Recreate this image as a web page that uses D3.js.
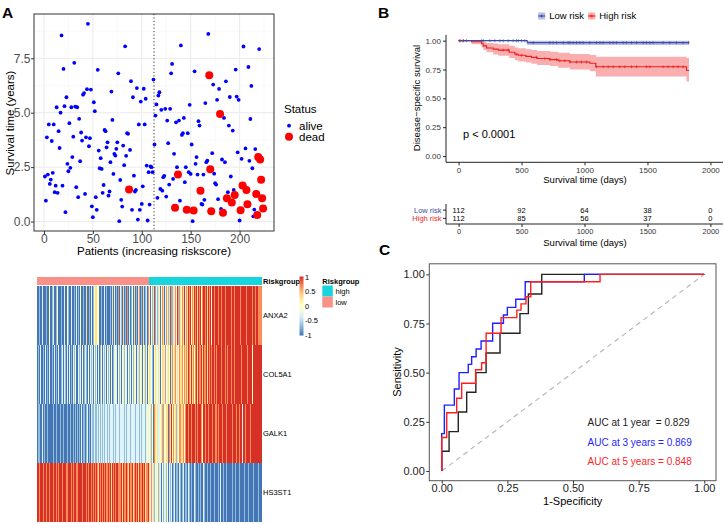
<!DOCTYPE html>
<html><head><meta charset="utf-8">
<script src="https://cdn.jsdelivr.net/npm/d3@7"></script>
<style>
body{margin:0;background:#fff}
svg{display:block}
text{font-family:"Liberation Sans",Arial,Helvetica,sans-serif}
</style>
</head><body>
<svg id="c" width="725" height="524"></svg>
<script>
// ================= DATA =================
// Panel A: survival time (years) per patient ordered by increasing riskscore
const survYears = [
2.07,0.96,3.87,2.16,4.46,1.73,1.93,3.70,2.24,4.46,
1.35,1.65,5.25,1.32,4.15,3.38,5.00,8.55,1.65,7.01,
5.30,0.43,5.71,2.65,2.31,4.52,2.47,5.25,2.96,3.90,
7.29,5.28,1.58,5.25,1.12,4.72,2.77,4.09,3.72,5.83,
5.90,1.27,3.87,6.08,9.08,3.46,3.83,6.06,0.70,0.20,
5.48,5.07,1.12,0.54,6.97,3.26,2.45,2.91,2.42,1.32,
1.68,4.21,4.15,3.41,3.64,1.19,1.38,2.73,5.97,4.67,
2.19,3.11,3.03,3.34,3.64,6.81,0.02,1.91,1.00,0.69,
3.49,2.59,8.05,3.02,4.06,4.03,1.47,3.29,6.45,0.54,
5.71,2.11,1.38,1.45,6.13,0.09,4.46,0.54,5.51,0.81,
1.62,6.10,4.46,5.64,2.57,0.05,2.27,0.78,2.53,2.50,
2.27,6.52,3.54,4.87,5.38,1.09,5.79,5.94,1.50,5.13,
1.42,2.04,2.10,5.18,1.15,4.64,3.60,1.70,5.18,6.81,
7.24,1.96,3.11,0.64,4.56,2.50,2.16,4.64,0.96,8.09,
3.98,4.06,4.76,1.81,2.50,0.54,4.06,2.27,5.36,2.19,
3.54,0.02,0.51,6.90,2.65,2.96,2.16,4.61,4.41,1.42,
0.81,0.78,2.16,1.00,5.44,2.73,2.80,8.62,6.72,2.40,
0.47,3.14,6.29,2.20,1.76,1.70,5.59,1.03,6.09,4.94,
0.58,2.85,0.41,4.76,2.73,6.44,1.07,1.35,4.41,5.72,
2.07,0.88,4.18,1.45,1.22,6.98,5.74,3.18,5.59,0.05,
0.52,2.88,1.66,8.04,1.66,3.36,1.45,0.79,7.10,2.79,
4.71,6.23,2.45,0.24,0.55,3.33,1.27,0.30,2.96,7.92,
2.85,1.92,1.07,0.60];
const deadPatients = [87,134,137,146,153,160,169,170,171,180,183,187,192,195,201,203,207,208,217,218,219,221,222,223,224];
const riskCutoff = 112.5;
const statusLabels = ["alive","dead"];
const xTicksA = [0,50,100,150,200];
const yTicksA = [0,2.5,5,7.5];

// Heatmap: expression levels per patient (0..6 => -1..1)
const genes = ["ANXA2","COL5A1","GALK1","HS3ST1"];
const exprANXA2 =
"00100200"+"01003001"+"20013000"+"10020031"+"00200102"+"01030010"+"04001020"+"13443300"+
"10020100"+"01040201"+"05021040"+"10502013"+"04010250"+"10401205"+"20314052"+"14203540"+
"25314051"+"42536154"+"35462546"+"56354656"+"46563566"+"56465636"+"65666566"+"56665666"+
"66566566"+"66656666"+"65666665"+"66566555";
const exprCOL5A1 =
"01020010"+"20102001"+"02010200"+"12021020"+"20102130"+"02120301"+"21030212"+"03120201"+
"30212031"+"20301232"+"03120321"+"32031203"+"12302413"+"20341203"+"42310342"+"34203442"+
"53243045"+"34524354"+"45354546"+"54645356"+"46556465"+"56465656"+"65656666"+"56665656"+
"66566566"+"66665666"+"66566663"+"66666666";
const exprGALK1 =
"01100201"+"00100000"+"10010001"+"00100010"+"01001010"+"10102011"+"01201021"+"12112121"+
"21212212"+"12221212"+"22122221"+"21222122"+"22122212"+"12221232"+"34130543"+"42234153"+
"34405463"+"53414355"+"44535665"+"66566656"+"56665366"+"56656665"+"66556566"+"65666566"+
"66656665"+"66566266"+"56666566"+"66666666";
const exprHS3ST1 =
"66566656"+"65665666"+"56656566"+"65666556"+"66565665"+"56666566"+"65656656"+"56565465"+
"65656556"+"56465656"+"65556465"+"56546556"+"45656465"+"56564556"+"42524132"+"31420312"+
"21302120"+"12011021"+"01201102"+"10100210"+"01010021"+"00100100"+"01000102"+"00100100"+
"00010010"+"00100001"+"00010000"+"10000100";
const riskGroups = ["high","low"];
const legendTicks = [1,0.5,0,-0.5,-1];

// Panel B: Kaplan-Meier steps [day, survival]
const kmLowSteps = [[0,1],[545,0.983]];
const kmLowLower = [1,0.962];
const kmLowUpper = [1,1];
const kmLowEnd = 1830;
const kmHighSteps = [[0,1],[103,0.991],[183,0.973],[196,0.955],[222,0.937],[275,0.927],[315,0.918],
  [402,0.900],[447,0.882],[474,0.873],[534,0.864],[579,0.855],[624,0.845],[725,0.836],[791,0.826],
  [884,0.815],[1042,0.804],[1090,0.774],[1810,0.741]];
const kmHighLower = [1,0.97,0.94,0.92,0.90,0.88,0.87,0.85,0.83,0.82,0.81,0.80,0.79,0.78,0.765,0.75,0.735,0.69,0.645];
const kmHighUpper = [1,1,1,0.99,0.98,0.975,0.97,0.955,0.94,0.935,0.925,0.92,0.91,0.905,0.895,0.885,0.875,0.86,0.85];
const kmHighEnd = 1830;
const censorLow = [10,37,63,183,196,249,288,328,354,394,434,460,474,500,526,593,725,751,778,831,870,884,910,937,963,989,1042,1095,1122,1148,1201,1228,1254,1307,1333,1373,1413,1466,1492,1519,1545,1624,1677,1730,1783,1826];
const censorHigh = [10,37,354,394,460,500,619,685,725,778,804,844,884,937,976,1016,1095,1148,1188,1228,1280,1320,1373,1413,1492,1519,1624,1664,1704,1743,1783];
const kmGroups = ["Low risk","High risk"];
const kmXTicks = [0,500,1000,1500,2000];
const kmYTicks = [0,0.25,0.5,0.75,1];
const riskTimes = [0,500,1000,1500,2000];
const atRiskLow = [112,92,64,38,0];
const atRiskHigh = [112,85,56,37,0];
const pValueLabel = "p < 0.0001";

// Panel C: time-dependent ROC curves [FPR, TPR]
const roc1y = [[0,0],[0,0.10],[0.028,0.10],[0.028,0.20],[0.063,0.20],[0.063,0.30],[0.095,0.30],[0.095,0.40],
  [0.13,0.40],[0.13,0.50],[0.169,0.50],[0.169,0.60],[0.222,0.60],[0.222,0.70],[0.298,0.70],[0.298,0.80],
  [0.33,0.80],[0.33,0.90],[0.381,0.90],[0.381,1],[1,1]];
const roc3y = [[0,0],[0,0.19],[0.01,0.19],[0.01,0.335],[0.048,0.335],[0.048,0.417],[0.066,0.417],[0.066,0.50],
  [0.101,0.50],[0.101,0.542],[0.114,0.542],[0.114,0.581],[0.131,0.581],[0.131,0.62],[0.15,0.62],[0.15,0.661],
  [0.194,0.661],[0.194,0.751],[0.235,0.751],[0.235,0.793],[0.25,0.793],[0.25,0.832],[0.282,0.832],[0.282,0.873],
  [0.318,0.873],[0.318,0.962],[0.543,0.962],[0.543,1],[1,1]];
const roc5y = [[0,0],[0,0.17],[0.019,0.17],[0.019,0.296],[0.057,0.296],[0.057,0.37],[0.076,0.37],[0.076,0.446],
  [0.129,0.446],[0.129,0.515],[0.152,0.515],[0.152,0.55],[0.169,0.55],[0.169,0.70],[0.226,0.70],[0.226,0.78],
  [0.286,0.78],[0.286,0.818],[0.302,0.818],[0.302,0.85],[0.321,0.85],[0.321,0.886],[0.339,0.886],[0.339,0.962],
  [0.603,0.962],[0.603,1],[1,1]];
const aucLabels = ["AUC at 1 year  = 0.829","AUC at 3 years = 0.869","AUC at 5 years = 0.848"];
const rocTicks = [0,0.25,0.5,0.75,1];

// ================= DRAW =================
const svg = d3.select("#c");
const f2 = d3.format(".2f"), f1 = d3.format(".1f"), fd = d3.format("d");

function styleAxis(g, fs, col, tickCol){
  g.selectAll("text").attr("font-size", fs).attr("fill", col)
   .attr("font-family", "'Liberation Sans',Arial,sans-serif");
  g.selectAll("line").attr("stroke", tickCol);
  g.select(".domain").attr("stroke", tickCol);
}

// ---------- Panel A: scatter ----------
{
  const n = survYears.length;
  const xA = d3.scaleLinear().domain([1-0.05*(n-1), n+0.05*(n-1)]).range([34,274]);
  const ext = d3.extent(survYears), pad = 0.05*(ext[1]-ext[0]);
  const yA = d3.scaleLinear().domain([ext[0]-pad, ext[1]+pad]).range([231,14]);
  const g = svg.append("g");
  g.append("rect").attr("x",34).attr("y",14).attr("width",240).attr("height",217).attr("fill","#fff");
  const minorX = xTicksA.map(d=>d+25), minorY = yTicksA.map(d=>d+1.25);
  g.selectAll(".mx").data(minorX.filter(d=>xA(d)<274)).join("line").attr("x1",d=>xA(d)).attr("x2",d=>xA(d))
    .attr("y1",14).attr("y2",231).attr("stroke","#f3f3f3").attr("stroke-width",0.6);
  g.selectAll(".my").data(minorY.filter(d=>yA(d)>14)).join("line").attr("y1",d=>yA(d)).attr("y2",d=>yA(d))
    .attr("x1",34).attr("x2",274).attr("stroke","#f3f3f3").attr("stroke-width",0.6);
  g.selectAll(".gx").data(xTicksA).join("line").attr("x1",d=>xA(d)).attr("x2",d=>xA(d))
    .attr("y1",14).attr("y2",231).attr("stroke","#ebebeb").attr("stroke-width",1);
  g.selectAll(".gy").data(yTicksA).join("line").attr("y1",d=>yA(d)).attr("y2",d=>yA(d))
    .attr("x1",34).attr("x2",274).attr("stroke","#ebebeb").attr("stroke-width",1);
  // cutoff
  g.append("line").attr("x1",xA(riskCutoff)).attr("x2",xA(riskCutoff)).attr("y1",14).attr("y2",231)
    .attr("stroke","#333").attr("stroke-width",1).attr("stroke-dasharray","1.2,2.2");
  const dead = new Set(deadPatients);
  const pts = survYears.map((t,i)=>({i:i+1,t,d:dead.has(i+1)}));
  g.selectAll(".pa").data(pts.filter(p=>!p.d)).join("circle").attr("cx",p=>xA(p.i)).attr("cy",p=>yA(p.t))
    .attr("r",1.9).attr("fill","#0000ff");
  g.selectAll(".pd").data(pts.filter(p=>p.d)).join("circle").attr("cx",p=>xA(p.i)).attr("cy",p=>yA(p.t))
    .attr("r",4).attr("fill","#ff0000");
  g.append("rect").attr("x",34).attr("y",14).attr("width",240).attr("height",217)
    .attr("fill","none").attr("stroke","#333").attr("stroke-width",1);
  const ax = g.append("g").attr("transform","translate(0,231)")
    .call(d3.axisBottom(xA).tickValues(xTicksA).tickSize(3).tickPadding(0).tickSizeOuter(0));
  ax.select(".domain").remove(); styleAxis(ax,12,"#4d4d4d","#333");
  const ay = g.append("g").attr("transform","translate(34,0)")
    .call(d3.axisLeft(yA).tickValues(yTicksA).tickFormat(f1).tickSize(3).tickPadding(0.5).tickSizeOuter(0));
  ay.select(".domain").remove(); styleAxis(ay,12,"#4d4d4d","#333");
  g.append("text").attr("x",154).attr("y",255).attr("text-anchor","middle").attr("font-size",11.5)
    .text("Patients (increasing riskscore)");
  g.append("text").attr("transform","translate(13.5,123) rotate(-90)").attr("text-anchor","middle")
    .attr("font-size",11.5).text("Survival time (years)");
  // legend
  g.append("text").attr("x",284).attr("y",113).attr("font-size",11.5).text("Status");
  g.append("circle").attr("cx",289).attr("cy",125.7).attr("r",1.9).attr("fill","#0000ff");
  g.append("circle").attr("cx",289).attr("cy",136.7).attr("r",4).attr("fill","#ff0000");
  g.selectAll(".lt").data(statusLabels).join("text").attr("x",299).attr("y",(d,i)=>129.8+11*i)
    .attr("font-size",11.5).text(d=>d);
  g.append("text").attr("x",2).attr("y",17.5).attr("font-size",15.5).attr("font-weight","bold").text("A");
}

// ---------- Heatmap ----------
{
  const exprRows = [exprANXA2,exprCOL5A1,exprGALK1,exprHS3ST1];
  const n = exprANXA2.length;
  const cols = d3.range(1,n+1);
  const xH = d3.scaleBand().domain(cols).range([37.3,261]);
  const yH = d3.scaleBand().domain(genes).range([286,522]);
  const color = d3.scaleLinear().domain([-1,-2/3,-1/3,0,1/3,2/3,1])
    .range(["#4575B4","#91BFDB","#E0F3F8","#FFFFBF","#FEE090","#FC8D59","#D73027"]);
  const grpColor = {low:"#FA9189", high:"#16D5DC"};
  const g = svg.append("g").attr("shape-rendering","crispEdges");
  genes.forEach((gene,r)=>{
    const s = exprRows[r];
    g.selectAll(".c"+r).data(cols).join("rect").attr("x",c=>xH(c)).attr("y",yH(gene))
      .attr("width",xH.bandwidth()+0.6).attr("height",yH.bandwidth())
      .attr("fill",c=>color(-1+(+s[c-1])/3));
  });
  g.selectAll(".ann").data(cols).join("rect").attr("x",c=>xH(c)).attr("y",277.3)
    .attr("width",xH.bandwidth()+0.6).attr("height",8)
    .attr("fill",c=>c<=riskCutoff?grpColor.low:grpColor.high);
  const t = svg.append("g");
  t.append("text").attr("x",263).attr("y",284).attr("font-size",7.5).attr("font-weight","bold").text("Riskgroup");
  t.selectAll(".gn").data(genes).join("text").attr("x",263).attr("y",d=>yH(d)+yH.bandwidth()/2+2.7)
    .attr("font-size",7.5).text(d=>d);
  // color legend
  const grad = svg.append("defs").append("linearGradient").attr("id","hg").attr("x1",0).attr("x2",0).attr("y1",1).attr("y2",0);
  d3.range(0,1.0001,0.1).forEach(o=>grad.append("stop").attr("offset",o).attr("stop-color",color(-1+2*o)));
  const yL = d3.scaleLinear().domain([-1,1]).range([335,277]);
  t.append("rect").attr("x",299.5).attr("y",276.5).attr("width",4).attr("height",59).attr("fill","url(#hg)");
  t.selectAll(".lg").data(legendTicks).join("text").attr("x",305).attr("y",d=>yL(d)+2.6)
    .attr("font-size",7.5).text(d=>d);
  t.append("text").attr("x",322.3).attr("y",283.5).attr("font-size",7.5).attr("font-weight","bold").text("Riskgroup");
  t.selectAll(".sw").data(riskGroups).join("rect").attr("x",322.3).attr("y",(d,i)=>285.5+11*i)
    .attr("width",10.5).attr("height",11).attr("fill",d=>grpColor[d]);
  t.selectAll(".swt").data(riskGroups).join("text").attr("x",335.5).attr("y",(d,i)=>294+11*i)
    .attr("font-size",7.5).text(d=>d);
}

// ---------- Panel B: KM ----------
{
  const xB = d3.scaleLinear().domain([-100,2100]).range([446,723]);
  const yB = d3.scaleLinear().domain([-0.05,1.05]).range([161.8,34.9]);
  const g = svg.append("g");
  const blue = "#3B4BA6", red = "#F21D1D";
  const area = d3.area().curve(d3.curveStepAfter).x(d=>xB(d[0])).y0(d=>yB(d[1])).y1(d=>yB(d[2]));
  const line = d3.line().curve(d3.curveStepAfter).x(d=>xB(d[0])).y(d=>yB(d[1]));
  const lowBand = kmLowSteps.map((s,i)=>[s[0],kmLowLower[i],kmLowUpper[i]]).concat([[kmLowEnd,kmLowLower[kmLowLower.length-1],kmLowUpper[kmLowUpper.length-1]]]);
  const highBand = kmHighSteps.map((s,i)=>[s[0],kmHighLower[i],kmHighUpper[i]]).concat([[kmHighEnd,kmHighLower[kmHighLower.length-1],kmHighUpper[kmHighUpper.length-1]]]);
  g.append("path").attr("d",area(highBand)).attr("fill","#F9AFAF");
  g.append("path").attr("d",area(lowBand)).attr("fill","#B9BEE2");
  const lowLine = kmLowSteps.concat([[kmLowEnd,kmLowSteps[kmLowSteps.length-1][1]]]);
  const highLine = kmHighSteps.concat([[kmHighEnd,kmHighSteps[kmHighSteps.length-1][1]]]);
  g.append("path").attr("d",line(highLine)).attr("fill","none").attr("stroke",red).attr("stroke-width",1.1);
  g.append("path").attr("d",line(lowLine)).attr("fill","none").attr("stroke",blue).attr("stroke-width",1.1);
  const survAt = (steps,t)=>{let s=1; steps.forEach(d=>{if(d[0]<=t) s=d[1];}); return s;};
  const plus = (sel,data,steps,col)=>{
    sel.selectAll(null).data(data).join("path")
      .attr("d",t=>{const x=xB(t),y=yB(survAt(steps,t));return `M${x},${y-1.6}V${y+1.6}M${x-1.3},${y}H${x+1.3}`;})
      .attr("stroke",col).attr("stroke-width",0.6);
  };
  plus(g,censorHigh,kmHighSteps,red);
  plus(g,censorLow,kmLowSteps,blue);
  const ax = g.append("g").attr("transform","translate(0,162.3)")
    .call(d3.axisBottom(xB).tickValues(kmXTicks).tickFormat(fd).tickSize(3).tickPadding(2).tickSizeOuter(0));
  styleAxis(ax,8,"#333","#222");
  ax.select(".domain").attr("d","M446,0H723");
  const ay = g.append("g").attr("transform","translate(446,0)")
    .call(d3.axisLeft(yB).tickValues(kmYTicks).tickFormat(f2).tickSize(3).tickPadding(2).tickSizeOuter(0));
  styleAxis(ay,8,"#333","#222");
  ay.select(".domain").attr("d","M0,34.9V162.3");
  g.append("text").attr("x",585).attr("y",183).attr("text-anchor","middle").attr("font-size",9.5).text("Survival time (days)");
  g.append("text").attr("transform","translate(420,98) rotate(-90)").attr("text-anchor","middle")
    .attr("font-size",9.5).text("Disease\u2212specific survival");
  g.append("text").attr("x",463).attr("y",138).attr("font-size",11).text(pValueLabel);
  // legend
  const lg = [{x:541.7,c:blue,f:"#B9BEE2"},{x:591.7,c:red,f:"#F9AFAF"}];
  lg.forEach((l,i)=>{
    g.append("rect").attr("x",l.x-3.5).attr("y",12.5).attr("width",7).attr("height",7).attr("fill",l.f);
    g.append("line").attr("x1",l.x-3.5).attr("x2",l.x+3.5).attr("y1",16).attr("y2",16).attr("stroke",l.c).attr("stroke-width",1.1);
    g.append("path").attr("d",`M${l.x},14.3V17.7M${l.x-1.4},16H${l.x+1.4}`).attr("stroke",l.c).attr("stroke-width",0.7);
    g.append("text").attr("x",l.x+7.5).attr("y",19.4).attr("font-size",9.5).text(kmGroups[i]);
  });
  g.append("text").attr("x",378).attr("y",17.5).attr("font-size",15.5).attr("font-weight","bold").text("B");

  // risk table
  const rt = svg.append("g");
  const yR = d3.scaleBand().domain(kmGroups).range([206,222.5]);
  rt.selectAll(".rl").data(riskTimes).join("text").attr("x",t=>xB(t)).attr("y",yR(kmGroups[0])+yR.bandwidth()/2+2.7)
    .attr("text-anchor","middle").attr("font-size",7.5).text((t,i)=>atRiskLow[i]);
  rt.selectAll(".rh").data(riskTimes).join("text").attr("x",t=>xB(t)).attr("y",yR(kmGroups[1])+yR.bandwidth()/2+2.7)
    .attr("text-anchor","middle").attr("font-size",7.5).text((t,i)=>atRiskHigh[i]);
  const rax = rt.append("g").attr("transform","translate(0,224)")
    .call(d3.axisBottom(xB).tickValues(kmXTicks).tickFormat(fd).tickSize(3).tickPadding(2).tickSizeOuter(0));
  styleAxis(rax,7.5,"#333","#222");
  rax.select(".domain").attr("d","M446,0H723");
  const ray = rt.append("g").attr("transform","translate(446,0)")
    .call(d3.axisLeft(yR).tickSize(3).tickPadding(1.5).tickSizeOuter(0));
  styleAxis(ray,7.5,"#333","#222");
  ray.select(".domain").attr("d","M0,204V224");
  ray.selectAll("text").attr("fill",(d,i)=>i===0?blue:red);
  rt.append("text").attr("x",585).attr("y",245.5).attr("text-anchor","middle").attr("font-size",9.5).text("Survival time (days)");
}

// ---------- Panel C: ROC ----------
{
  const xC = d3.scaleLinear().domain([-0.05,1.05]).range([428.6,717.4]);
  const yC = d3.scaleLinear().domain([-0.05,1.05]).range([480.8,264.5]);
  const g = svg.append("g");
  g.append("line").attr("x1",xC(0)).attr("y1",yC(0)).attr("x2",xC(1)).attr("y2",yC(1))
    .attr("stroke","#b3b3b3").attr("stroke-width",1.1).attr("stroke-dasharray","5,4");
  const line = d3.line().x(d=>xC(d[0])).y(d=>yC(d[1]));
  [[roc1y,"#222"],[roc3y,"#1f1fff"],[roc5y,"#ff1f1f"]].forEach(([d,c])=>{
    g.append("path").attr("d",line(d)).attr("fill","none").attr("stroke",c).attr("stroke-width",1.4);
  });
  g.append("rect").attr("x",429.3).attr("y",263.8).attr("width",286.7).attr("height",216.9)
    .attr("fill","none").attr("stroke","#555").attr("stroke-width",1);
  const ax = g.append("g").attr("transform","translate(0,480.7)")
    .call(d3.axisBottom(xC).tickValues(rocTicks).tickFormat(f2).tickSize(3).tickPadding(1).tickSizeOuter(0));
  ax.select(".domain").remove(); styleAxis(ax,11,"#222","#333");
  const ay = g.append("g").attr("transform","translate(429.3,0)")
    .call(d3.axisLeft(yC).tickValues(rocTicks).tickFormat(f2).tickSize(3).tickPadding(1.5).tickSizeOuter(0));
  ay.select(".domain").remove(); styleAxis(ay,11,"#222","#333");
  g.append("text").attr("x",572.7).attr("y",504.5).attr("text-anchor","middle").attr("font-size",11).text("1-Specificity");
  g.append("text").attr("transform","translate(400.5,372) rotate(-90)").attr("text-anchor","middle")
    .attr("font-size",11).text("Sensitivity");
  const cols = ["#222","#1f1fff","#ff1f1f"];
  g.selectAll(".auc").data(aucLabels).join("text").attr("x",587.5).attr("y",(d,i)=>[425.8,445.8,465.2][i])
    .attr("font-size",10).attr("fill",(d,i)=>cols[i]).attr("xml:space","preserve").style("white-space","pre").text(d=>d);
  g.append("text").attr("x",379).attr("y",255).attr("font-size",15.5).attr("font-weight","bold").text("C");
}
</script>
</body></html>
